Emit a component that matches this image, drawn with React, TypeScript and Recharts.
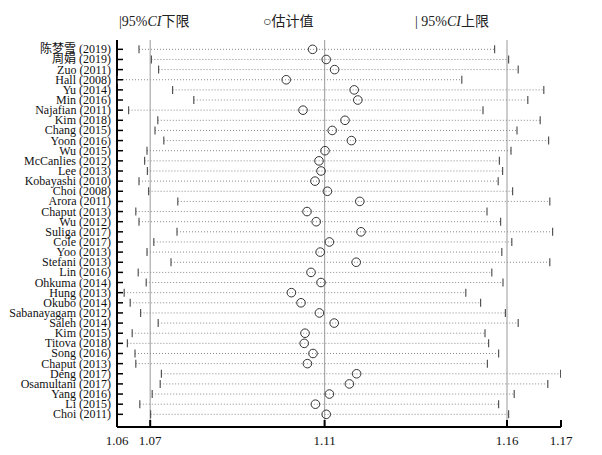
import React from "react"
import {
  ScatterChart,
  Scatter,
  XAxis,
  YAxis,
  ErrorBar,
  ReferenceLine,
} from "recharts"

// study labels, top to bottom
const studies = [
  "陈梦雪 (2019)", "周娟 (2019)", "Zuo (2011)", "Hall (2008)", "Yu (2014)", "Min (2016)",
  "Najafian (2011)", "Kim (2018)", "Chang (2015)", "Yoon (2016)", "Wu (2015)",
  "McCanlies (2012)", "Lee (2013)", "Kobayashi (2010)", "Choi (2008)", "Arora (2011)",
  "Chaput (2013)", "Wu (2012)", "Suliga (2017)", "Cole (2017)", "Yoo (2013)",
  "Stefani (2013)", "Lin (2016)", "Ohkuma (2014)", "Hung (2013)", "Okubo (2014)",
  "Sabanayagam (2012)", "Saleh (2014)", "Kim (2015)", "Titova (2018)", "Song (2016)",
  "Chaput (2013)", "Deng (2017)", "Osamultani (2017)", "Yang (2016)", "Li (2015)",
  "Choi (2011)",
]

// estimate with each study omitted
const estimate = [
  1.1094, 1.1128, 1.1149, 1.1028, 1.1198, 1.1207, 1.107, 1.1175, 1.1143, 1.1191, 1.1125,
  1.111, 1.1115, 1.11, 1.1131, 1.1212, 1.108, 1.1103, 1.1215, 1.1136, 1.1113, 1.1203,
  1.109, 1.1115, 1.1041, 1.1065, 1.1111, 1.1148, 1.1075, 1.1073, 1.1095, 1.1081, 1.1204,
  1.1186, 1.1136, 1.1101, 1.1128,
]

const lower = [
  1.066, 1.0691, 1.0709, 1.0605, 1.0744, 1.0797, 1.0634, 1.0707, 1.07, 1.0722, 1.068,
  1.0674, 1.0681, 1.066, 1.0684, 1.0757, 1.0652, 1.066, 1.0755, 1.0697, 1.068, 1.074,
  1.0658, 1.0678, 1.0623, 1.0638, 1.0664, 1.0708, 1.0643, 1.0631, 1.065, 1.0652, 1.0716,
  1.0713, 1.0693, 1.0662, 1.0689,
]

const upper = [
  1.1549, 1.1584, 1.1608, 1.1467, 1.1672, 1.1632, 1.152, 1.1663, 1.1605, 1.1684, 1.159,
  1.1561, 1.1569, 1.1558, 1.1594, 1.1687, 1.153, 1.1564, 1.1694, 1.1592, 1.1567, 1.1687,
  1.1542, 1.157, 1.1477, 1.1514, 1.1576, 1.1608, 1.1525, 1.1534, 1.1559, 1.1531, 1.1714,
  1.1682, 1.1598, 1.1559, 1.1584,
]

// axis ticks: min lower, pooled lower, pooled estimate, pooled upper, max upper
const xTicks = [1.0605, 1.0688, 1.1124, 1.158, 1.1715]
const pooled = [1.0688, 1.1124, 1.158]

const serif = "'Liberation Serif', 'Times New Roman', 'Noto Sans CJK SC', serif"

const estPoints = estimate.map((v, i) => ({
  x: v,
  y: i,
  err: [v - lower[i], upper[i] - v],
}))
const lowPoints = lower.map((v, i) => ({ x: v, y: i }))
const highPoints = upper.map((v, i) => ({ x: v, y: i }))

const Tick = (props: any) => (
  <line x1={props.cx} x2={props.cx} y1={props.cy - 4} y2={props.cy + 4} stroke="#555" strokeWidth={1.2} />
)

const Circle = (props: any) => (
  <circle cx={props.cx} cy={props.cy} r={4.3} fill="none" stroke="#333" strokeWidth={1} />
)

const YTick = ({ x, y, payload }: any) => (
  <g>
    <line x1={x} x2={x + 6} y1={y} y2={y} stroke="#000" strokeWidth={1.5} />
    <text x={x - 6} y={y} dy={4} textAnchor="end" fontSize={12} fontFamily={serif} fill="#111">
      {studies[payload.value]}
    </text>
  </g>
)

const XTick = ({ x, y, payload }: any) => (
  <g>
    <line x1={x} x2={x} y1={y} y2={y - 7} stroke="#000" strokeWidth={2} />
    <text x={x} y={y + 18} textAnchor="middle" fontSize={13} fontFamily={serif} fill="#111">
      {payload.value.toFixed(2)}
    </text>
  </g>
)

function Legend() {
  const style: React.CSSProperties = {
    position: "absolute",
    top: 10,
    fontFamily: serif,
    fontSize: 14,
    color: "#222",
    whiteSpace: "nowrap",
  }
  return (
    <>
      <span style={{ ...style, left: 119 }}>
        |95%<i>CI</i>下限
      </span>
      <span style={{ ...style, left: 263 }}>○估计值</span>
      <span style={{ ...style, left: 415 }}>
        | 95%<i>CI</i>上限
      </span>
    </>
  )
}

export default function App() {
  return (
    <div style={{ position: "absolute", left: 0, top: 0, width: 602, height: 455, background: "#fff" }}>
      <Legend />
      <ScatterChart width={602} height={455} margin={{ top: 40, right: 41, bottom: 0, left: 0 }}>
        <XAxis
          type="number"
          dataKey="x"
          domain={[xTicks[0], xTicks[xTicks.length - 1]]}
          ticks={xTicks}
          interval={0}
          allowDataOverflow
          height={28}
          tickSize={0}
          tickMargin={0}
          tick={<XTick />}
          axisLine={{ stroke: "#000", strokeWidth: 2 }}
        />
        <YAxis
          type="number"
          dataKey="y"
          reversed
          domain={[-0.92, 37.25]}
          ticks={studies.map((_, i) => i)}
          interval={0}
          allowDataOverflow
          width={117}
          tickSize={0}
          tickMargin={0}
          tick={<YTick />}
          axisLine={{ stroke: "#000", strokeWidth: 2 }}
        />
        {pooled.map((v) => (
          <ReferenceLine key={v} x={v} stroke="#aaa" strokeWidth={1.2} />
        ))}
        <Scatter data={estPoints} shape={<Circle />} isAnimationActive={false}>
          <ErrorBar dataKey="err" direction="x" width={0} stroke="#8a8a8a" strokeWidth={1} strokeDasharray="1 2" />
        </Scatter>
        <Scatter data={lowPoints} shape={<Tick />} isAnimationActive={false} />
        <Scatter data={highPoints} shape={<Tick />} isAnimationActive={false} />
      </ScatterChart>
    </div>
  )
}
